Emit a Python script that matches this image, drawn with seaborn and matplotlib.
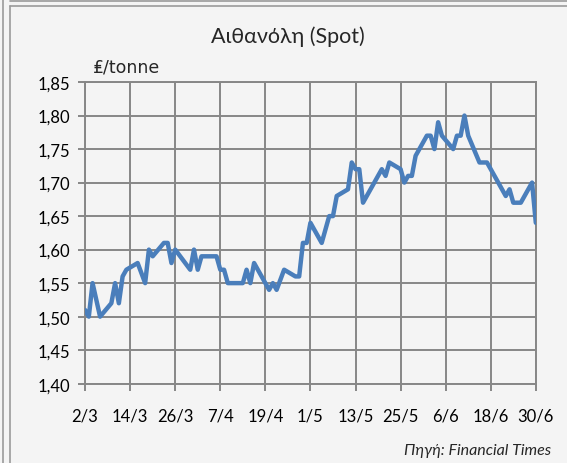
import pandas as pd
import matplotlib
matplotlib.use("Agg")
import matplotlib.pyplot as plt
import matplotlib.dates as mdates
import seaborn as sns

# Ethanol spot price
dates = [
    "2009-03-02", "2009-03-03", "2009-03-04", "2009-03-06", "2009-03-09",
    "2009-03-10", "2009-03-11", "2009-03-12", "2009-03-13", "2009-03-16",
    "2009-03-18", "2009-03-19", "2009-03-20", "2009-03-23", "2009-03-24",
    "2009-03-25", "2009-03-26", "2009-03-30", "2009-03-31", "2009-04-01",
    "2009-04-02", "2009-04-06", "2009-04-07", "2009-04-08", "2009-04-09",
    "2009-04-13", "2009-04-14", "2009-04-15", "2009-04-16", "2009-04-20",
    "2009-04-21", "2009-04-22", "2009-04-24", "2009-04-27", "2009-04-28",
    "2009-04-29", "2009-04-30", "2009-05-01", "2009-05-04", "2009-05-06",
    "2009-05-07", "2009-05-08", "2009-05-11", "2009-05-12", "2009-05-13",
    "2009-05-14", "2009-05-15", "2009-05-18", "2009-05-20", "2009-05-21",
    "2009-05-22", "2009-05-25", "2009-05-26", "2009-05-27", "2009-05-28",
    "2009-05-29", "2009-05-31", "2009-06-01", "2009-06-02", "2009-06-03",
    "2009-06-04", "2009-06-05", "2009-06-08", "2009-06-09", "2009-06-10",
    "2009-06-11", "2009-06-12", "2009-06-15", "2009-06-17", "2009-06-18",
    "2009-06-22", "2009-06-23", "2009-06-24", "2009-06-26", "2009-06-29",
    "2009-06-30",
]
prices = [
    1.51, 1.50, 1.55, 1.50, 1.52,
    1.55, 1.52, 1.56, 1.57, 1.58,
    1.55, 1.60, 1.59, 1.61, 1.61,
    1.58, 1.60, 1.57, 1.60, 1.57,
    1.59, 1.59, 1.57, 1.57, 1.55,
    1.55, 1.57, 1.55, 1.58, 1.54,
    1.55, 1.54, 1.57, 1.56, 1.56,
    1.61, 1.61, 1.64, 1.61, 1.65,
    1.65, 1.68, 1.69, 1.73, 1.72,
    1.72, 1.67, 1.70, 1.72, 1.71,
    1.73, 1.72, 1.70, 1.71, 1.71,
    1.74, 1.76, 1.77, 1.77, 1.75,
    1.79, 1.77, 1.75, 1.77, 1.77,
    1.80, 1.77, 1.73, 1.73, 1.72,
    1.68, 1.69, 1.67, 1.67, 1.70,
    1.64,
]

title = "Αιθανόλη (Spot)"
unit_label = "₤/tonne"
source = "Πηγή: Financial Times"

df = pd.DataFrame({"date": pd.to_datetime(dates), "price": prices})

bg = "#f4f4f4"
grid_col = "#878787"
line_col = "#4a7ebb"

sns.set_style("white")
plt.rcParams["font.family"] = ["Lato", "DejaVu Sans"]

fig = plt.figure(figsize=(5.67, 4.64), dpi=100, facecolor=bg)
ax = fig.add_axes([0.150, 0.171, 0.795, 0.650])
ax.set_facecolor(bg)

sns.lineplot(data=df, x="date", y="price", ax=ax, color=line_col,
             linewidth=3.2, zorder=3)

start, end = pd.Timestamp("2009-03-02"), pd.Timestamp("2009-06-30")
ax.set_xlim(start, end)
ax.set_ylim(1.40, 1.85)

major = pd.date_range(start, end, freq="12D")
minor = pd.date_range(start, end, freq="3D")
ax.set_xticks(major)
ax.set_xticks(minor, minor=True)
ax.xaxis.set_major_formatter(
    plt.FuncFormatter(lambda v, p: f"{mdates.num2date(v).day}/{mdates.num2date(v).month}"))
ax.set_yticks([1.40 + 0.05 * i for i in range(10)])
ax.yaxis.set_major_formatter(plt.FuncFormatter(lambda v, p: f"{v:.2f}".replace(".", ",")))

ax.grid(True, which="major", color=grid_col, linewidth=1.4)
ax.tick_params(axis="both", which="major", direction="out", length=5,
               width=1.4, color=grid_col, labelsize=12, labelcolor="black")
ax.tick_params(axis="y", which="major", pad=6)
ax.tick_params(axis="x", which="major", pad=12)
ax.tick_params(axis="x", which="minor", direction="out", length=3,
               width=1.2, color=grid_col)
ax.tick_params(left=True, bottom=True)
for side, sp in ax.spines.items():
    sp.set_color(grid_col)
    sp.set_linewidth(1.4)

ax.set_xlabel("")
ax.set_ylabel("")

fig.text(0.507, 0.921, title, ha="center", va="center", fontsize=15.5)
fig.text(0.163, 0.855, unit_label, ha="left", va="center", fontsize=12.5,
         family=["DejaVu Sans"])
fig.text(0.972, 0.028, source, ha="right", va="center", fontsize=11.5,
         style="italic")

# Excel-like frame lines
fig.add_artist(plt.Line2D([0.005, 0.005], [0, 1], color="#9a9a9a", linewidth=1.2))
fig.add_artist(plt.Line2D([0.018, 0.018], [0, 0.985], color="#9a9a9a", linewidth=1.2))
fig.add_artist(plt.Line2D([0.018, 1], [0.985, 0.985], color="#9a9a9a", linewidth=1.2))
fig.add_artist(plt.Line2D([0.018, 1], [0.995, 0.995], color="#9a9a9a", linewidth=1.2))

fig.savefig("out.png", dpi=100, facecolor=bg)
